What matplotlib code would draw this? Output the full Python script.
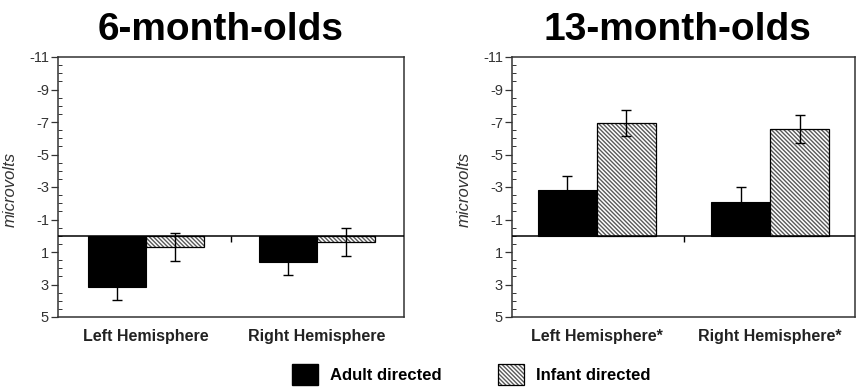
import numpy as np
import matplotlib
matplotlib.use("Agg")
import matplotlib.pyplot as plt
from matplotlib.patches import Patch
from matplotlib.ticker import MultipleLocator, FixedLocator

plt.rcParams['font.family'] = ['Liberation Sans', 'DejaVu Sans']
plt.rcParams['hatch.linewidth'] = 1.0
plt.rcParams['axes.unicode_minus'] = False

# data (microvolts, negative plotted upwards)
groups_6 = ['Left Hemisphere', 'Right Hemisphere']
groups_13 = ['Left Hemisphere*', 'Right Hemisphere*']
adult_6 = [3.15, 1.6]
adult_6_err = [0.8, 0.8]
infant_6 = [0.7, 0.4]
infant_6_err = [0.85, 0.87]
adult_13 = [-2.8, -2.1]
adult_13_err = [0.9, 0.92]
infant_13 = [-6.93, -6.56]
infant_13_err = [0.82, 0.88]
yticks = [-11, -9, -7, -5, -3, -1, 1, 3, 5]
titles = ['6-month-olds', '13-month-olds']
series_names = ['Adult directed', 'Infant directed']

HATCH = '\\' * 8
HATCH_COL = '#5a5a5a'
W = 0.34

fig = plt.figure(figsize=(8.6, 3.87), dpi=100)
ax1 = fig.add_axes([58/860, 70/387, 346/860, 260/387])
ax2 = fig.add_axes([512/860, 70/387, 343/860, 260/387])


def draw_panel(ax, adult, adult_err, infant, infant_err, labels, title, xlim, title_x):
    x = np.arange(len(labels))
    ax.bar(x - W/2, adult, W, color='black', edgecolor='black', linewidth=0.8, zorder=2)
    ax.errorbar(x - W/2, adult, yerr=adult_err, fmt='none', ecolor='black',
                elinewidth=1, capsize=3.5, capthick=1, zorder=3)
    ax.bar(x + W/2, infant, W, color='white', edgecolor=HATCH_COL, hatch=HATCH,
           linewidth=0, zorder=2)
    ax.bar(x + W/2, infant, W, fill=False, edgecolor='black', linewidth=0.9, zorder=2.5)
    ax.errorbar(x + W/2, infant, yerr=infant_err, fmt='none', ecolor='black',
                elinewidth=1, capsize=3.5, capthick=1, zorder=3)

    ax.axhline(0, color='black', linewidth=1.1, zorder=4)
    # little tick on the zero line between the groups
    ax.vlines(0.5, 0, 0.4, color='black', linewidth=1, zorder=4)

    ax.set_xlim(*xlim)
    ax.set_ylim(5, -11)
    ax.yaxis.set_major_locator(FixedLocator(yticks))
    ax.yaxis.set_minor_locator(MultipleLocator(0.5))
    ax.tick_params(axis='y', which='major', length=5, width=0.9, direction='out',
                   labelsize=10.5, labelcolor='#333333', pad=1.5, color='#333333')
    ax.tick_params(axis='y', which='minor', length=3, width=0.7, direction='in',
                   color='#333333')
    ax.set_xticks(x)
    ax.set_xticklabels(labels, fontsize=11.5, fontweight='bold', color='#222222')
    ax.tick_params(axis='x', length=0, pad=9)
    for s in ax.spines.values():
        s.set_color('#333333')
        s.set_linewidth(1.1)
    ax.set_ylabel('microvolts', fontsize=12, style='italic', color='#333333')
    ax.yaxis.set_label_coords(-0.116, 0.49)
    ax.set_title(title, fontsize=28, fontweight='bold', pad=12, x=title_x)


draw_panel(ax1, adult_6, adult_6_err, infant_6, infant_6_err, groups_6, titles[0],
           (-0.515, 1.51), 0.471)
draw_panel(ax2, adult_13, adult_13_err, infant_13, infant_13_err, groups_13, titles[1],
           (-0.49, 1.49), 0.482)

h_adult = Patch(facecolor='black', edgecolor='black')
h_inf = (Patch(facecolor='white', edgecolor=HATCH_COL, hatch=HATCH, linewidth=0),
         Patch(fill=False, edgecolor='black', linewidth=0.9))
fig.legend([h_adult, h_inf], series_names, loc='upper center',
           bbox_to_anchor=(0.548, 31/387), ncol=2, frameon=False, borderpad=0,
           handlelength=1.55, handleheight=1.55, handletextpad=0.7, columnspacing=3.4,
           prop={'weight': 'bold', 'size': 12})

fig.savefig('out.png', dpi=100)
